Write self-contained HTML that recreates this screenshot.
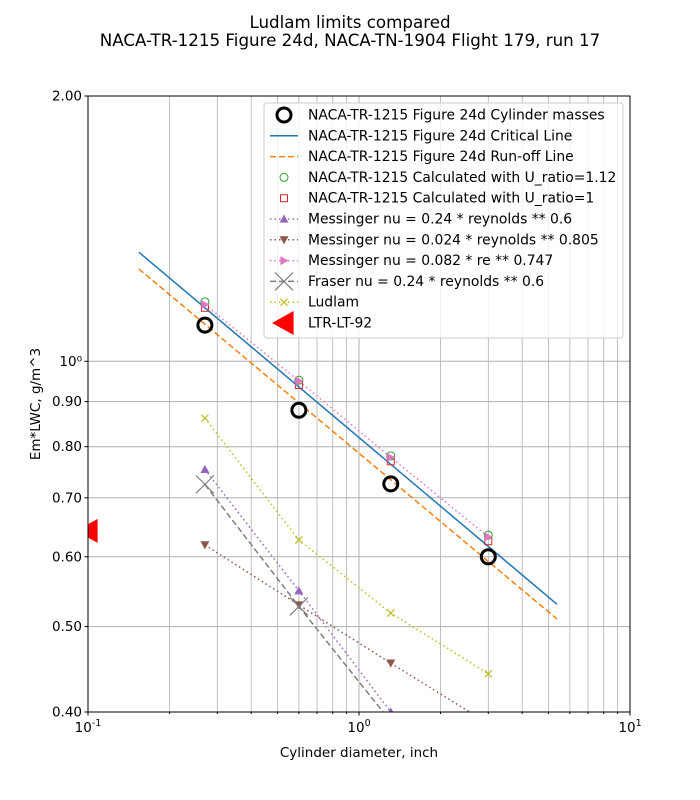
<!DOCTYPE html>
<html><head><meta charset="utf-8"><style>
html,body{margin:0;padding:0;background:#fff;overflow:hidden;width:700px;height:800px}
svg{display:block}
</style></head><body>
<svg id="c" width="700" height="800" xmlns="http://www.w3.org/2000/svg" font-family="DejaVu Sans, Liberation Sans, sans-serif">
<text x="350" y="28" text-anchor="middle" font-size="16.7">Ludlam limits compared</text>
<text x="350" y="46" text-anchor="middle" font-size="16.7">NACA-TR-1215 Figure 24d, NACA-TN-1904 Flight 179, run 17</text>
<g id="grid"></g>
<g id="marks"></g>
<rect x="88" y="96" width="542" height="616" fill="none" stroke="#000" stroke-width="1"/>
<g id="ticks" font-size="13.5"></g>
<text x="359" y="757" text-anchor="middle" font-size="13.5">Cylinder diameter, inch</text>
<text transform="translate(40,404) rotate(-90)" text-anchor="middle" font-size="13.5">Em*LWC, g/m^3</text>
<g id="legend" font-size="13.9"></g>
</svg>
<script>
const diam = [0.27, 0.6, 1.31, 3.0];
const cylMass = [1.099, 0.88, 0.726, 0.60];
const critX = [0.154, 5.38];
const critY = [1.33, 0.53];
const runoffX = [0.154, 5.38];
const runoffY = [1.273, 0.51];
const calc112 = [1.168, 0.952, 0.781, 0.635];
const calc1 = [1.15, 0.94, 0.77, 0.625];
const mess1 = [0.754, 0.549, 0.40, 0.29];
const mess2 = [0.619, 0.529, 0.4545, 0.388];
const mess3 = [1.16, 0.95, 0.778, 0.632];
const fraser = [0.725, 0.527, 0.39, 0.28];
const ludlam = [0.862, 0.627, 0.518, 0.442];
const ltrX = [0.1];
const ltrY = [0.642];
const yTicks = [0.4, 0.5, 0.6, 0.7, 0.8, 0.9, 1.0, 2.0];
const yTickLabels = ["0.40","0.50","0.60","0.70","0.80","0.90","10⁰","2.00"];

const L=88,R=630,T=96,B=712;
const X=v=>L+(Math.log10(v)+1)/2*(R-L);
const Y=v=>T+(Math.log10(2)-Math.log10(v))/Math.log10(5)*(B-T);
const NS="http://www.w3.org/2000/svg";
function mk(p,tag,at){const e=document.createElementNS(NS,tag);for(const k in at)e.setAttribute(k,at[k]);p.appendChild(e);return e;}
const grid=document.getElementById('grid'),marks=document.getElementById('marks'),ticks=document.getElementById('ticks'),leg=document.getElementById('legend');
const defs=mk(document.getElementById('c'),'defs',{});const cp=mk(defs,'clipPath',{id:'clip'});mk(cp,'rect',{x:L,y:T,width:R-L,height:B-T});
marks.setAttribute('clip-path','url(#clip)');
for(let d=-1;d<=1;d++)for(let m=1;m<=9;m++){const v=m*Math.pow(10,d);if(v>10)break;const x=X(v);
const g=mk(grid,'line',{x1:x,x2:x,y1:T,y2:B,stroke:'#b0b0b0','stroke-width':m==1?1:0.8});


mk(ticks,'line',{x1:x,x2:x,y1:B,y2:B+(m==1?3.5:2),stroke:'#000'});}
[[0.1,'-1'],[1,'0'],[10,'1']].forEach(([v,e])=>{const t=mk(ticks,'text',{x:X(v),y:B+20,'text-anchor':'middle'});t.innerHTML='10<tspan dy="-6" font-size="9.5">'+e+'</tspan>';

});
yTicks.forEach((v,i)=>{const y=Y(v);const g=mk(grid,'line',{x1:L,x2:R,y1:y,y2:y,stroke:'#b0b0b0'});


mk(ticks,'line',{x1:L-3.5,x2:L,y1:y,y2:y,stroke:'#000'});
const t=mk(ticks,'text',{x:L-6,y:y+4.5,'text-anchor':'end'});t.textContent=yTickLabels[i];

});
function line(xs,ys,col,dash,w,name){const p=mk(marks,'polyline',{points:xs.map((x,i)=>X(x)+','+Y(ys[i])).join(' '),fill:'none',stroke:col,'stroke-width':w||1.5,'stroke-dasharray':dash||''});

}
function sym(g,type,x,y,col,s){
 if(type=='O')mk(g,'circle',{cx:x,cy:y,r:s,fill:'none',stroke:col,'stroke-width':s>5?3:1});
 else if(type=='s')mk(g,'rect',{x:x-s,y:y-s,width:2*s,height:2*s,fill:'none',stroke:col});
 else if(type=='^')mk(g,'polygon',{points:`${x},${y-s} ${x-s},${y+s*0.8} ${x+s},${y+s*0.8}`,fill:col});
 else if(type=='v')mk(g,'polygon',{points:`${x},${y+s} ${x-s},${y-s*0.8} ${x+s},${y-s*0.8}`,fill:col});
 else if(type=='>')mk(g,'polygon',{points:`${x+s},${y} ${x-s*0.8},${y-s} ${x-s*0.8},${y+s}`,fill:col});
 else if(type=='<')mk(g,'polygon',{points:`${x-s},${y} ${x+s*0.8},${y-s} ${x+s*0.8},${y+s}`,fill:col});
 else if(type=='x'){mk(g,'line',{x1:x-s,y1:y-s,x2:x+s,y2:y+s,stroke:col,'stroke-width':1.2});mk(g,'line',{x1:x-s,y1:y+s,x2:x+s,y2:y-s,stroke:col,'stroke-width':1.2});}
}
function pts(xs,ys,type,col,s,name){xs.forEach((x,i)=>{const g=mk(marks,'g',{});


sym(g,type,X(x),Y(ys[i]),col,s);});}
line(critX,critY,'#1f77b4','',1.5,'critical-line');
line(runoffX,runoffY,'#ff7f0e','6,3',1.5,'runoff-line');
line(diam,mess1,'#9467bd','1.5,3',1.5,'messinger-1-line');
line(diam,mess2,'#8c564b','1.5,3',1.5,'messinger-2-line');
line(diam,mess3,'#e377c2','1.5,3',1.5,'messinger-3-line');
line(diam,fraser,'#7f7f7f','6,3',1.5,'fraser-line');
line(diam,ludlam,'#bcbd22','1.5,3',1.5,'ludlam-line');
pts(diam,cylMass,'O','#000',7,'cylinder-mass-point');
pts(diam,calc112,'O','#2ca02c',4,'calc-uratio-112-point');
pts(diam,calc1,'s','#d62728',3.5,'calc-uratio-1-point');
pts(diam,mess1,'^','#9467bd',4.5,'messinger-1-point');
pts(diam,mess2,'v','#8c564b',4.5,'messinger-2-point');
pts(diam,mess3,'>','#e377c2',4.5,'messinger-3-point');
pts(diam,fraser,'x','#7f7f7f',9,'fraser-point');
pts(diam,ludlam,'x','#bcbd22',3.5,'ludlam-point');
pts(ltrX,ltrY,'<','#ff0000',12,'ltr-lt-92-point');
const lb=mk(leg,'rect',{x:264,y:103,width:359,height:235,rx:3,fill:'#fff','fill-opacity':0.8,stroke:'#ccc'});


const items=[['NACA-TR-1215 Figure 24d Cylinder masses','O','#000',7,null],['NACA-TR-1215 Figure 24d Critical Line',null,'#1f77b4',0,''],['NACA-TR-1215 Figure 24d Run-off Line',null,'#ff7f0e',0,'6,3'],['NACA-TR-1215 Calculated with U_ratio=1.12','O','#2ca02c',4,null],['NACA-TR-1215 Calculated with U_ratio=1','s','#d62728',3.5,null],['Messinger nu = 0.24 * reynolds ** 0.6','^','#9467bd',4.5,'1.5,3'],['Messinger nu = 0.024 * reynolds ** 0.805','v','#8c564b',4.5,'1.5,3'],['Messinger nu = 0.082 * re ** 0.747','>','#e377c2',4.5,'1.5,3'],['Fraser nu = 0.24 * reynolds ** 0.6','x','#7f7f7f',9,'6,3'],['Ludlam','x','#bcbd22',3.5,'1.5,3'],['LTR-LT-92','<','#ff0000',12,null]];
items.forEach((it,i)=>{const y=115+i*20.8;const g=mk(leg,'g',{});


if(it[4]!==null)mk(g,'line',{x1:270,x2:298,y1:y,y2:y,stroke:it[2],'stroke-width':1.5,'stroke-dasharray':it[4]});
if(it[1])sym(g,it[1],284,y,it[2],it[3]);
const t=mk(g,'text',{x:308,y:y+4.5});t.textContent=it[0];});
</script>
</body></html>
